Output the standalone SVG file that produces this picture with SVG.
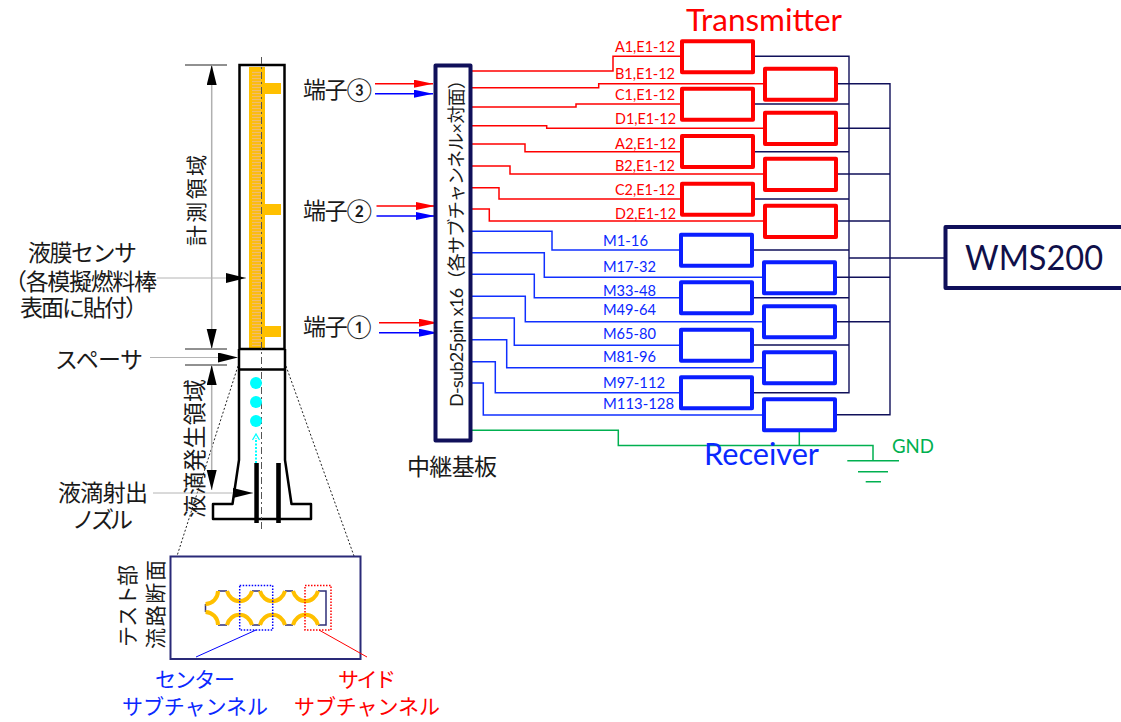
<svg xmlns="http://www.w3.org/2000/svg" width="1121" height="722" viewBox="0 0 1121 722">
<style>
text{font-family:"Lato","Noto Sans CJK JP",sans-serif;fill:#1a1a1a}
.jp{font-size:23px}
.jps{font-size:21px}
.r{fill:#ff0000}.b{fill:#0a28ff}.g{fill:#00b050}
.lab{font-size:15px}
.rl,.bl,.gl,.nl,.dim,.lead,.ext,.dot{fill:none}
.rl{stroke:#ff0000;stroke-width:1.5}
.bl{stroke:#1030ff;stroke-width:1.5}
.gl{stroke:#00b050;stroke-width:1.5}
.nl{stroke:#10105a;stroke-width:1.4}
.rbox{fill:#fff;stroke:#ff0000;stroke-width:4;stroke-linejoin:round}
.bbox{fill:#fff;stroke:#0a1eff;stroke-width:4;stroke-linejoin:round}
.dim{stroke:#b0b0b0;stroke-width:1.5}
.lead{stroke:#b4b4b4;stroke-width:1}
.ext{stroke:#222;stroke-width:1}
.dot{stroke:#222;stroke-width:1;stroke-dasharray:2 2}
.or{fill:#ffc000}
.arc{fill:none;stroke:#ffc000;stroke-width:4}
.flat{fill:none;stroke:#2f2f78;stroke-width:1.5}
</style>
<defs>
<pattern id="hatch" width="4" height="3" patternUnits="userSpaceOnUse"><rect width="4" height="3" fill="#fbbc14"/><rect width="4" height="1" fill="#f0bc70"/></pattern>
<marker id="ak" markerUnits="userSpaceOnUse" markerWidth="21" markerHeight="11" refX="20" refY="5" orient="auto-start-reverse"><path d="M0,0 L20,5 L0,10 Z" fill="#000"/></marker>
<marker id="ar" markerUnits="userSpaceOnUse" markerWidth="20" markerHeight="9" refX="19" refY="4" orient="auto"><path d="M0,0 L19,4 L0,8 Z" fill="#ff0000"/></marker>
<marker id="ab" markerUnits="userSpaceOnUse" markerWidth="20" markerHeight="9" refX="19" refY="4" orient="auto"><path d="M0,0 L19,4 L0,8 Z" fill="#0000ff"/></marker>
</defs>
<rect width="1121" height="722" fill="#fff"/>

<g id="test-section">
<rect class="or" x="249" y="67" width="16" height="281"/>
<rect fill="url(#hatch)" x="252" y="71" width="9" height="275"/>
<rect class="or" x="265" y="83" width="16" height="11"/>
<rect class="or" x="265" y="204" width="16" height="11"/>
<rect class="or" x="265" y="326" width="16" height="11"/>
<rect x="239.5" y="65" width="45" height="284" fill="none" stroke="#000" stroke-width="2.5"/>
<path d="M239,349 V460 L232.5,504 H213 V519 H311 V504 H291.5 L285,460 V349 M239,369.5 H285" fill="none" stroke="#000" stroke-width="2.5" stroke-linejoin="round"/>
<path d="M261.5,57 V530" fill="none" stroke="#555" stroke-width="1" stroke-dasharray="7 3 2 3"/>
<circle cx="256" cy="383" r="6" fill="#00ffff"/>
<circle cx="256" cy="402" r="6" fill="#00ffff"/>
<circle cx="256" cy="421" r="6" fill="#00ffff"/>
<path d="M256,463 V438" fill="none" stroke="#00ffff" stroke-width="2" stroke-dasharray="2 1.5"/>
<path d="M252.5,440 L256,434 L259.5,440" fill="none" stroke="#00ffff" stroke-width="1.3"/>
<rect x="254.3" y="463" width="4.5" height="60" fill="#000"/>
<rect x="276.2" y="463" width="4.6" height="60" fill="#000"/>
<path class="dot" d="M238,366 L177,556 M286,366 L354,556"/>
</g>

<g id="dimensions">
<path class="ext" d="M185,65 H227 M185,349 H227 M185,365 H227"/>
<path class="dim" d="M211.7,65 V349" marker-start="url(#ak)" marker-end="url(#ak)"/>
<path class="dim" d="M211.7,365 V490" marker-start="url(#ak)" marker-end="url(#ak)"/>
<path class="lead" d="M157,278 H246" marker-end="url(#ak)"/>
<path class="lead" d="M150,357.5 H238" marker-end="url(#ak)"/>
<path class="lead" d="M153,493 H253" marker-end="url(#ak)"/>
<text class="jps" transform="translate(204,246) rotate(-90)" textLength="91">計測領域</text>
<text class="jp" transform="translate(203,518) rotate(-90)" textLength="139">液滴発生領域</text>
</g>

<g id="left-labels">
<text class="jp" x="28" y="261" textLength="109">液膜センサ</text>
<text class="jp" x="4" y="290" textLength="153">（各模擬燃料棒</text>
<text class="jp" x="20" y="316" textLength="128">表面に貼付）</text>
<text class="jp" x="55" y="368" textLength="88">スペーサ</text>
<text class="jp" x="58" y="501" textLength="90">液滴射出</text>
<text class="jp" x="72" y="528" textLength="61">ノズル</text>
</g>

<g id="cross-section">
<rect x="170.5" y="556.5" width="190" height="102.5" fill="#fff" stroke="#2a2a78" stroke-width="2"/>
<path class="flat" d="M205.5,604 V612 M218,591 H227 M252,591 H260 M285,591 H293 M318,591 H326 V625 H318 M218,625 H227 M252,625 H260 M285,625 H293"/>
<path class="arc" d="M205.5,604 A13,13 0 0 0 218,591 M227,591 A13,14 0 0 0 252,591 M260,591 A13,14 0 0 0 285,591 M293,591 A13,14 0 0 0 318,591"/>
<path class="arc" d="M205.5,612 A13,13 0 0 1 218,625 M227,625 A13,14 0 0 1 252,625 M260,625 A13,14 0 0 1 285,625 M293,625 A13,14 0 0 1 318,625"/>
<rect x="239.7" y="585.5" width="33" height="44.5" fill="none" stroke="#0000ff" stroke-width="1.5" stroke-dasharray="1.5 1.5"/>
<rect x="305" y="585.5" width="26" height="44.5" fill="none" stroke="#ff0000" stroke-width="1.5" stroke-dasharray="1.5 1.5"/>
<path d="M256,630 L196,657" fill="none" stroke="#0000ff" stroke-width="1"/>
<path d="M319,630 L367,657" fill="none" stroke="#ff0000" stroke-width="1"/>
<text class="jps" transform="translate(135,647) rotate(-90)" textLength="82">テスト部</text>
<text class="jps" transform="translate(163,649) rotate(-90)" textLength="89">流路断面</text>
<text class="jps b" x="155" y="687" textLength="80">センター</text>
<text class="jps b" x="122" y="714" textLength="146">サブチャンネル</text>
<text class="jps r" x="338" y="687" textLength="58">サイド</text>
<text class="jps r" x="294" y="714" textLength="146">サブチャンネル</text>
</g>

<g id="ports">
<path class="rl" d="M375,83.7 H433" marker-end="url(#ar)"/>
<path class="bl" style="stroke:#0000ff" d="M375,93.7 H433" marker-end="url(#ab)"/>
<path class="rl" d="M376.5,206 H435" marker-end="url(#ar)"/>
<path class="bl" style="stroke:#0000ff" d="M376.5,216 H435" marker-end="url(#ab)"/>
<path class="rl" d="M379,322.7 H438" marker-end="url(#ar)"/>
<path class="bl" style="stroke:#0000ff" d="M379,332.7 H438" marker-end="url(#ab)"/>
<text class="jp" x="303" y="98" textLength="69">端子③</text>
<text class="jp" x="303" y="219" textLength="69">端子②</text>
<text class="jp" x="303" y="335" textLength="69">端子①</text>
</g>

<g id="connectors">
<path class="rl" d="M472,71 H613 V56.3 H682"/>
<path class="rl" d="M472,87.7 H598.7 V83.7 H765"/>
<path class="rl" d="M472,107 H576 V104 H682"/>
<path class="rl" d="M472,125.7 H546.7 V128.3 H765"/>
<path class="rl" d="M472,144 H525 V151.7 H682"/>
<path class="rl" d="M472,166 H510 V174 H765"/>
<path class="rl" d="M472,187.7 H499 V199 H682"/>
<path class="rl" d="M472,209 H489.3 V221 H765"/>
<path class="bl" d="M472,231.3 H552 V250 H681"/>
<path class="bl" d="M472,252.7 H544.3 V277.3 H764"/>
<path class="bl" d="M472,274.3 H534.3 V297.7 H681"/>
<path class="bl" d="M472,296.3 H525.3 V321.7 H764"/>
<path class="bl" d="M472,318 H514.3 V345.3 H681"/>
<path class="bl" d="M472,339.7 H506.7 V367.7 H764"/>
<path class="bl" d="M472,361.7 H495.3 V392.7 H681"/>
<path class="bl" d="M472,383 H483.3 V415 H764"/>
<path class="gl" d="M472,430.3 H618.3 V445.5 H873 V460.7 M799.3,445.5 V432 M847.3,460.7 H899 M858,471.7 H888 M865.7,481.7 H881"/>
<path class="nl" d="M753,56.3 H849 V392.7 H752 M753,104 H849 M753,151.7 H849 M753,199 H849 M752,250 H849 M752,297.7 H849 M752,345 H849"/>
<path class="nl" d="M836,83.7 H890 V414.7 H835 M836,128.3 H890 M836,174 H890 M836,221 H890 M835,277.3 H890 M835,321.7 H890"/>
<path class="nl" style="stroke-width:1.7" d="M849,258 H946"/>
</g>

<g id="relay-board">
<rect x="435.5" y="65.5" width="35" height="375" fill="#fff" stroke="#10105a" stroke-width="4" stroke-linejoin="round"/>
<text transform="translate(462.5,407) rotate(-90)" textLength="336" style="font-size:18px">D-sub25pin x16（各サブチャンネル×対面）</text>
<text class="jp" x="407" y="475" textLength="90">中継基板</text>
</g>

<g id="tx-a1"><rect class="rbox" x="682" y="41.3" width="71" height="31"/></g>
<g id="tx-b1"><rect class="rbox" x="765" y="68.7" width="71" height="31"/></g>
<g id="tx-c1"><rect class="rbox" x="682" y="88.7" width="71" height="31"/></g>
<g id="tx-d1"><rect class="rbox" x="765" y="112.7" width="71" height="31.3"/></g>
<g id="tx-a2"><rect class="rbox" x="682" y="136" width="71" height="31"/></g>
<g id="tx-b2"><rect class="rbox" x="765" y="158.7" width="71" height="31.3"/></g>
<g id="tx-c2"><rect class="rbox" x="682" y="183.7" width="71" height="31"/></g>
<g id="tx-d2"><rect class="rbox" x="765" y="205.7" width="71" height="31.3"/></g>
<g id="rx-1"><rect class="bbox" x="681" y="234.7" width="71" height="31"/></g>
<g id="rx-2"><rect class="bbox" x="764" y="262.3" width="71" height="31"/></g>
<g id="rx-3"><rect class="bbox" x="681" y="282.3" width="71" height="31"/></g>
<g id="rx-4"><rect class="bbox" x="764" y="306.3" width="71" height="31"/></g>
<g id="rx-5"><rect class="bbox" x="681" y="329.7" width="71" height="31"/></g>
<g id="rx-6"><rect class="bbox" x="764" y="352.3" width="71" height="31"/></g>
<g id="rx-7"><rect class="bbox" x="681" y="377.3" width="71" height="31"/></g>
<g id="rx-8"><rect class="bbox" x="764" y="399.3" width="71" height="31"/></g>

<g id="wms200">
<path d="M1121,227 H945.5 V288 H1121" fill="#fff" stroke="#10105a" stroke-width="4" stroke-linejoin="round"/>
<text x="965" y="270" textLength="138" lengthAdjust="spacingAndGlyphs" style="font-size:34px;fill:#10104a">WMS200</text>
</g>

<g id="labels">
<text class="r" x="686" y="31" textLength="156" lengthAdjust="spacingAndGlyphs" style="font-size:30px">Transmitter</text>
<text class="b" x="704" y="465" textLength="115" lengthAdjust="spacingAndGlyphs" style="font-size:30px">Receiver</text>
<text class="g" x="892" y="453" textLength="42" lengthAdjust="spacingAndGlyphs" style="font-size:19px">GND</text>
<text class="r lab" x="615" y="51.7" textLength="60" lengthAdjust="spacingAndGlyphs">A1,E1-12</text>
<text class="r lab" x="615" y="79" textLength="60" lengthAdjust="spacingAndGlyphs">B1,E1-12</text>
<text class="r lab" x="615" y="100" textLength="60" lengthAdjust="spacingAndGlyphs">C1,E1-12</text>
<text class="r lab" x="615" y="123.7" textLength="61" lengthAdjust="spacingAndGlyphs">D1,E1-12</text>
<text class="r lab" x="615" y="148.7" textLength="61" lengthAdjust="spacingAndGlyphs">A2,E1-12</text>
<text class="r lab" x="615" y="171" textLength="60" lengthAdjust="spacingAndGlyphs">B2,E1-12</text>
<text class="r lab" x="615" y="195" textLength="60" lengthAdjust="spacingAndGlyphs">C2,E1-12</text>
<text class="r lab" x="615" y="218.7" textLength="61" lengthAdjust="spacingAndGlyphs">D2,E1-12</text>
<text class="b lab" x="603" y="246" textLength="45" lengthAdjust="spacingAndGlyphs">M1-16</text>
<text class="b lab" x="603" y="272.3" textLength="53" lengthAdjust="spacingAndGlyphs">M17-32</text>
<text class="b lab" x="603" y="296" textLength="53" lengthAdjust="spacingAndGlyphs">M33-48</text>
<text class="b lab" x="603" y="315" textLength="53" lengthAdjust="spacingAndGlyphs">M49-64</text>
<text class="b lab" x="603" y="339" textLength="53" lengthAdjust="spacingAndGlyphs">M65-80</text>
<text class="b lab" x="603" y="362" textLength="53" lengthAdjust="spacingAndGlyphs">M81-96</text>
<text class="b lab" x="603" y="387.7" textLength="62" lengthAdjust="spacingAndGlyphs">M97-112</text>
<text class="b lab" x="603" y="408.7" textLength="71" lengthAdjust="spacingAndGlyphs">M113-128</text>
</g>
</svg>
